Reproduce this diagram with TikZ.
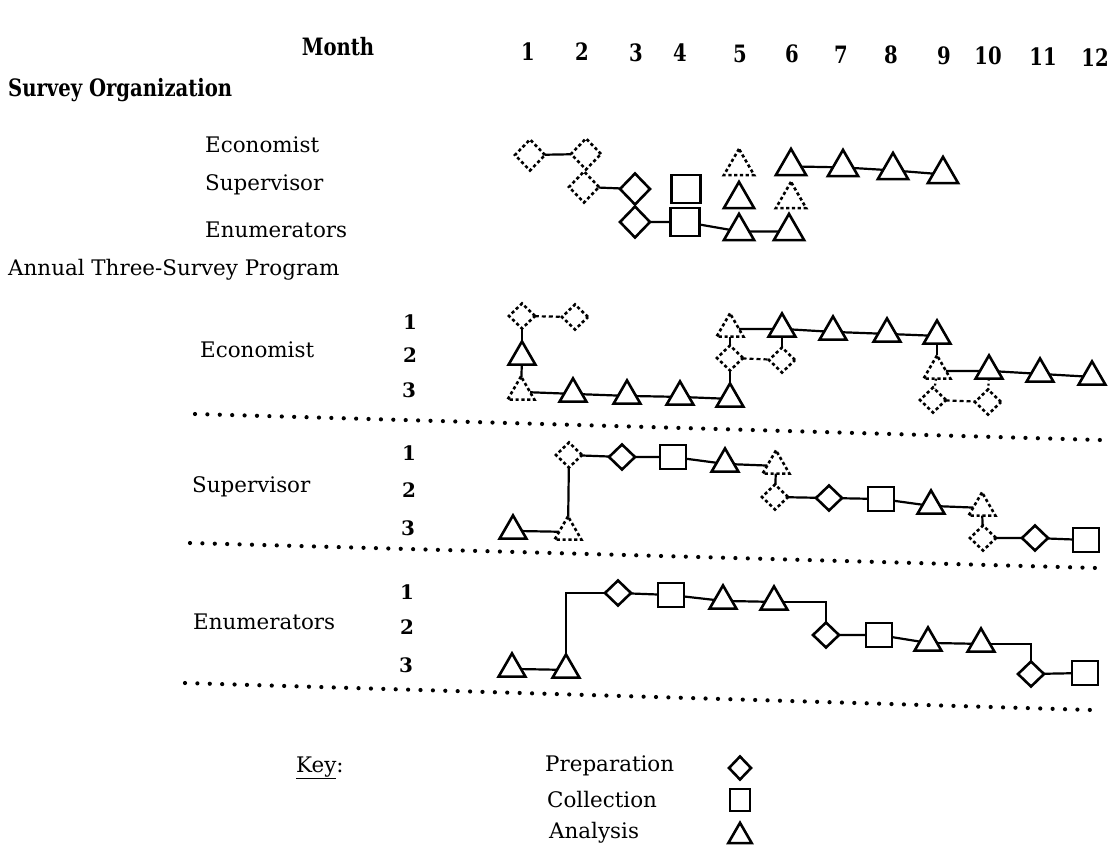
\documentclass[tikz,border=0pt]{standalone}
\usepackage{fontspec}
\setmainfont{DejaVu Serif}
\newfontfamily\cfont{DejaVu Serif}[FakeStretch=0.82]
\usetikzlibrary{shapes.geometric}
\tikzset{
  shp/.style={draw=black, line width=2.6bp, inner sep=0pt, outer sep=0pt},
  dot/.style={dash pattern=on 3.2bp off 2.6bp},
  prep/.style={shp, diamond, minimum width=26bp, minimum height=25bp},
  coll/.style={shp, rectangle, minimum width=26bp, minimum height=24bp},
  anal/.style={shp, regular polygon, regular polygon sides=3, minimum size=31bp, yshift=-3.9bp},
  tprep/.style={shp, diamond, minimum width=30bp, minimum height=31bp},
  tcoll/.style={shp, rectangle, minimum width=29bp, minimum height=28bp},
  tanal/.style={shp, regular polygon, regular polygon sides=3, minimum size=35bp, yshift=-4.4bp},
  kprep/.style={shp, diamond, minimum width=22bp, minimum height=23bp},
  kcoll/.style={shp, rectangle, minimum width=20bp, minimum height=22bp},
  kanal/.style={shp, regular polygon, regular polygon sides=3, minimum size=27bp, yshift=-3.3bp},
  conn/.style={draw=black, line width=2.2bp},
  dconn/.style={draw=black, line width=2.2bp, dash pattern=on 4bp off 3bp},
  pconn/.style={draw=black, line width=2.2bp, dash pattern=on 2bp off 3bp},
  sep/.style={draw=black, line width=4.2bp, line cap=round, dash pattern=on 0bp off 12.4bp},
  lab/.style={font=\fontsize{21.5}{24}\selectfont, inner sep=0pt, anchor=west},
  num/.style={font=\cfont\bfseries\fontsize{24}{26}\selectfont, inner sep=0pt},
  rown/.style={font=\bfseries\fontsize{20}{22}\selectfont, inner sep=0pt},
}
\begin{document}
\begin{tikzpicture}[x=1bp,y=-1bp]
\useasboundingbox (0,0) rectangle (1112,850);
% header
\node[num] (month) at (338,47) {Month};
\node[num] (m1) at (528,52) {1};
\node[num] (m2) at (582,52) {2};
\node[num] (m3) at (636,53) {3};
\node[num] (m4) at (680,53) {4};
\node[num] (m5) at (740,54) {5};
\node[num] (m6) at (792,54) {6};
\node[num] (m7) at (841,55) {7};
\node[num] (m8) at (891,55) {8};
\node[num] (m9) at (944,56) {9};
\node[num] (m10) at (988,56) {10};
\node[num] (m11) at (1043,57) {11};
\node[num] (m12) at (1095,58) {12};
\node[num, anchor=west] (so) at (8,90) {Survey Organization};
\node[lab] (soe) at (205,145) {Economist};
\node[lab] (sos) at (205,185) {Supervisor};
\node[lab] (son) at (205,230) {Enumerators};
\node[lab] (atp) at (8,270) {Annual Three-Survey Program};
% survey organization shapes
\node[tprep,dot] (oe1) at (530,155) {};
\node[tprep,dot] (oe2) at (586,154) {};
\node[tprep,dot] (os2) at (584,187) {};
\node[tprep] (os3) at (635,189) {};
\node[tcoll] (os4) at (686,189) {};
\node[tanal] (os5) at (739,195) {};
\node[tanal,dot] (oe5) at (739,162) {};
\node[tanal] (oe6) at (791,162) {};
\node[tanal] (oe7) at (843,163) {};
\node[tanal] (oe8) at (893,166) {};
\node[tanal] (oe9) at (943,170) {};
\node[tanal,dot] (os6) at (791,195) {};
\node[tprep] (on3) at (635,222) {};
\node[tcoll] (on4) at (685,222) {};
\node[tanal] (on5) at (739,227) {};
\node[tanal] (on6) at (789,227) {};
\draw[conn] (oe1) -- (oe2);
\draw[conn] (os2) -- (os3);
\draw[conn] (on3) -- (on4) -- (on5) -- (on6);
\draw[conn] (oe6) -- (oe7) -- (oe8) -- (oe9);
% annual program: economist
\node[lab] (le) at (200,350) {Economist};
\node[rown] (le1) at (410,322) {1};
\node[rown] (le2) at (410,355) {2};
\node[rown] (le3) at (409,390) {3};
\node[prep,dot] (ea1) at (522,316) {};
\node[prep,dot] (ea2) at (575,317) {};
\node[anal] (eb1) at (522,353) {};
\node[anal,dot] (ec1) at (521,388) {};
\node[anal] (ec2) at (573,390) {};
\node[anal] (ec3) at (627,392) {};
\node[anal] (ec4) at (680,393) {};
\node[anal] (ec5) at (730,395) {};
\node[anal,dot] (ea5) at (730,325) {};
\node[prep,dot] (eb5) at (730,358) {};
\node[prep,dot] (eb6) at (782,360) {};
\node[anal] (ea6) at (782,325) {};
\node[anal] (ea7) at (833,328) {};
\node[anal] (ea8) at (887,330) {};
\node[anal] (ea9) at (937,332) {};
\node[anal,dot] (eb9) at (937,367) {};
\node[anal] (eb10) at (989,367) {};
\node[anal] (eb11) at (1040,370) {};
\node[anal] (eb12) at (1092,373) {};
\node[prep,dot] (ec9) at (933,400) {};
\node[prep,dot] (ec10) at (988,402) {};
\draw[dconn] (ea1) -- (ea2);
\draw[conn] (ea1) -- (eb1);
\draw[conn] (eb1) -- (ec1);
\draw[conn] (ec1) -- (ec2) -- (ec3) -- (ec4) -- (ec5);
\draw[conn] (ea5) -- (eb5);
\draw[conn] (eb5) -- (ec5);
\draw[dconn] (eb5) -- (eb6);
\draw[conn] (ea5) -- (ea6) -- (ea7) -- (ea8) -- (ea9);
\draw[conn] (ea6) -- (eb6);
\draw[conn] (ea9) -- (eb9);
\draw[conn] (eb9) -- (eb10) -- (eb11) -- (eb12);
\draw[dconn] (ec9) -- (ec10);
\draw[pconn] (eb9) -- (ec9);
\draw[pconn] (eb10) -- (ec10);
\coordinate (s1a) at (195,414);
\coordinate (s1b) at (1100,440);
\draw[sep] (s1a) -- (s1b);
% supervisor
\node[lab] (ls) at (192,487) {Supervisor};
\node[rown] (ls1) at (409,453) {1};
\node[rown] (ls2) at (409,490) {2};
\node[rown] (ls3) at (408,528) {3};
\node[prep,dot] (sa2) at (569,455) {};
\node[anal,dot] (sc2) at (568,528) {};
\node[anal] (sc1) at (513,527) {};
\node[prep] (sa3) at (622,457) {};
\node[coll] (sa4) at (673,457) {};
\node[anal] (sa5) at (725,460) {};
\node[anal,dot] (sa6) at (776,462) {};
\node[prep,dot] (sb6) at (775,497) {};
\node[prep] (sb7) at (829,498) {};
\node[coll] (sb8) at (881,499) {};
\node[anal] (sb9) at (931,502) {};
\node[anal,dot] (sb10) at (982,504) {};
\node[prep,dot] (sc10) at (983,538) {};
\node[prep] (sc11) at (1035,538) {};
\node[coll] (sc12) at (1086,540) {};
\draw[conn] (sc1) -- (sc2);
\draw[conn] (sa2) -- (sc2);
\draw[conn] (sa2) -- (sa3) -- (sa4) -- (sa5) -- (sa6);
\draw[conn] (sa6) -- (sb6);
\draw[conn] (sb6) -- (sb7) -- (sb8) -- (sb9) -- (sb10);
\draw[conn] (sb10) -- (sc10);
\draw[conn] (sc10) -- (sc11) -- (sc12);
\coordinate (s2a) at (190,543);
\coordinate (s2b) at (1097,568);
\draw[sep] (s2a) -- (s2b);
% enumerators
\node[lab] (ln) at (193,622) {Enumerators};
\node[rown] (ln1) at (407,592) {1};
\node[rown] (ln2) at (407,627) {2};
\node[rown] (ln3) at (406,665) {3};
\node[anal] (nc1) at (512,665) {};
\node[anal] (nc2) at (566,666) {};
\node[prep] (na3) at (618,593) {};
\node[coll] (na4) at (671,595) {};
\node[anal] (na5) at (723,597) {};
\node[anal] (na6) at (774,598) {};
\node[prep] (nb7) at (826,635) {};
\node[coll] (nb8) at (879,635) {};
\node[anal] (nb9) at (928,639) {};
\node[anal] (nb10) at (981,640) {};
\node[prep] (nc11) at (1031,674) {};
\node[coll] (nc12) at (1085,673) {};
\draw[conn] (nc1) -- (nc2);
\draw[conn] (nc2.north) |- (na3);
\draw[conn] (na3) -- (na4) -- (na5) -- (na6);
\draw[conn] (na6) -| (nb7.north);
\draw[conn] (nb7) -- (nb8) -- (nb9) -- (nb10);
\draw[conn] (nb10) -| (nc11.north);
\draw[conn] (nc11) -- (nc12);
\coordinate (s3a) at (185,683);
\coordinate (s3b) at (1092,710);
\draw[sep] (s3a) -- (s3b);
% key
\node[lab] (key) at (296,768) {\underline{Key}:};
\node[lab] (kp) at (545,766) {Preparation};
\node[lab] (kc) at (547,800) {Collection};
\node[lab] (ka) at (549,833) {Analysis};
\node[kprep] (kd) at (740,768) {};
\node[kcoll] (ks) at (740,800) {};
\node[kanal] (kt) at (740,833) {};
\end{tikzpicture}
\end{document}
